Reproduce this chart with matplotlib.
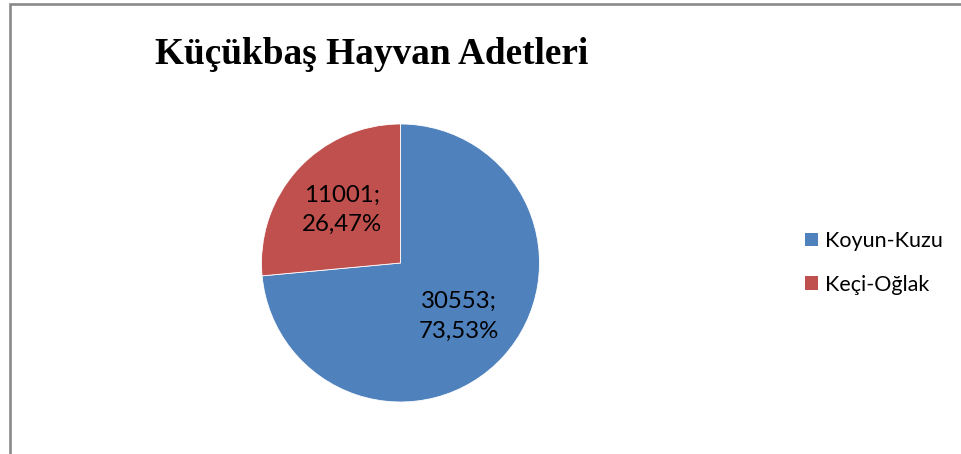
import matplotlib
matplotlib.use("Agg")
import matplotlib.pyplot as plt
from matplotlib.patches import Rectangle, Patch

categories = ["Koyun-Kuzu", "Keçi-Oğlak"]
values = [30553, 11001]
colors = ["#4F81BD", "#C0504D"]
title = "Küçükbaş Hayvan Adetleri"

W, H = 962, 454
fig = plt.figure(figsize=(W / 100, H / 100), dpi=100)
fig.patch.set_facecolor("white")

# chart frame (left + top visible)
fig.add_artist(Rectangle((9.5 / W, -0.1), 1.2, (H - 3.5) / H + 0.1,
                         transform=fig.transFigure, fill=False,
                         edgecolor="#8A8A8A", linewidth=1.9))

cx, cy, r = 400.5, 263, 139
ax = fig.add_axes([(cx - r) / W, (H - cy - r) / H, 2 * r / W, 2 * r / H])
ax.set_xlim(-1, 1)
ax.set_ylim(-1, 1)
ax.axis("off")

total = sum(values)
def fmt(p):
    v = int(round(p * total / 100.0))
    return f"{v};\n{p:.2f}%".replace(".", ",")

wedges, texts, autotexts = ax.pie(values, colors=colors, startangle=90,
                                  counterclock=False, radius=1,
                                  autopct=fmt, pctdistance=0.57,
                                  wedgeprops=dict(edgecolor="white", linewidth=0.6),
                                  textprops=dict(fontsize=17.3, family="Lato",
                                                 color="black", linespacing=1.5))
ax.set_xlim(-1, 1)
ax.set_ylim(-1, 1)

fig.text(155 / W, 1 - 64.3 / H, title, family="Liberation Serif", fontweight="bold",
         fontsize=26.8, ha="left", va="baseline")

handles = [Patch(facecolor=c, edgecolor="none") for c in colors]
fig.legend(handles, categories, loc="center left",
           bbox_to_anchor=(805 / W, 1 - 263 / H), frameon=False,
           prop=dict(family="Lato", size=15.5),
           handlelength=0.6, handleheight=0.6, handletextpad=0.33,
           labelspacing=1.1, borderaxespad=0, borderpad=0)

fig.savefig("out.png", dpi=100, facecolor="white")
